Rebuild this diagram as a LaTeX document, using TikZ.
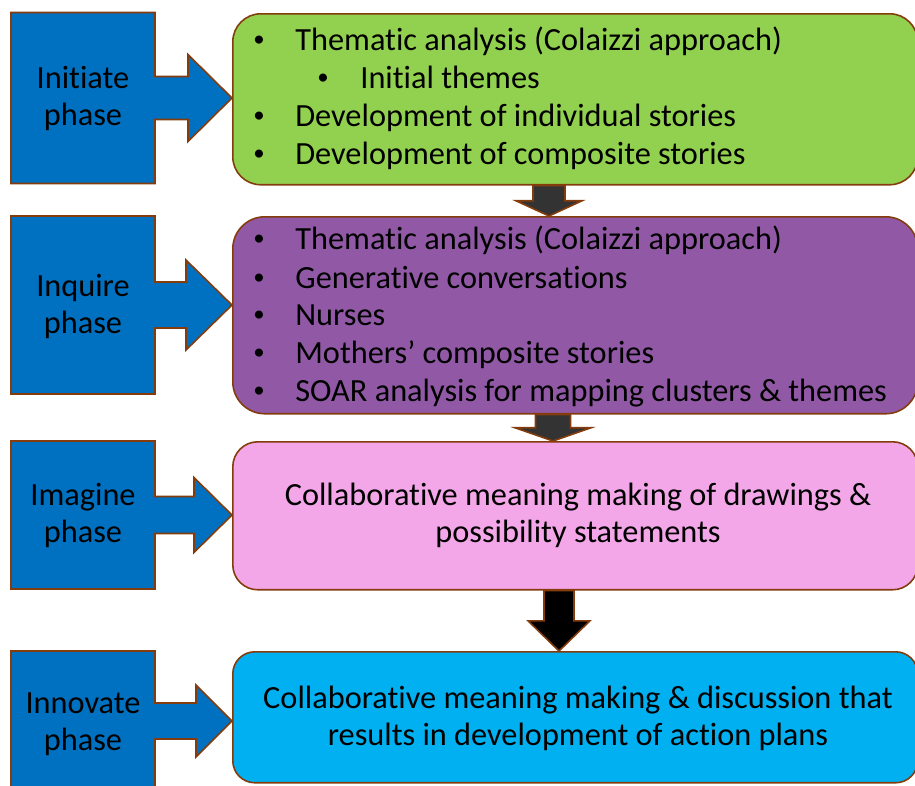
\documentclass[tikz,border=0pt]{standalone}
\usepackage{fontspec}
\setmainfont{Carlito}[RawFeature={-liga;-clig;-calt;-dlig;-hlig;-ccmp}]
\usetikzlibrary{calc}

\definecolor{calloutblue}{HTML}{0070C0}
\definecolor{edge}{HTML}{843C0C}
\definecolor{initgreen}{HTML}{92D050}
\definecolor{inqpurple}{HTML}{9159A5}
\definecolor{imagpink}{HTML}{F3A6E8}
\definecolor{innocyan}{HTML}{00B0F0}
\definecolor{arrowgray}{HTML}{333333}

\tikzset{
  callout/.style={fill=calloutblue, draw=edge, line width=0.9pt, line join=miter},
  stagebox/.style={draw=edge, line width=0.9pt, anchor=north west, inner sep=0pt, minimum width=13.7cm},
  txt/.style={font=\fontsize{18.4}{21}\selectfont, inner sep=0pt, anchor=base},
  item/.style={txt, anchor=base west},
  dot/.style={font=\fontsize{13}{13}\selectfont, inner sep=0pt, anchor=center},
}

% block arrow between two stage boxes
\newcommand{\stagearrow}[6]{%
  \coordinate (t) at (#1,0 |- #2.south);
  \coordinate (b) at (#1,0 |- #3.north);
  \coordinate (m) at ($(t)!0.5!(b)$);
  \filldraw[fill=#4, draw=edge, line width=0.9pt]
    ($(t)+(-#5,0)$) -- ($(t)+(#5,0)$) -- ($(m)+(#5,0)$) -- ($(m)+(#6,0)$)
    -- (b) -- ($(m)+(-#6,0)$) -- ($(m)+(-#5,0)$) -- cycle;
}

\begin{document}
\begin{tikzpicture}[x=0.02cm, y=-0.02cm]
  \useasboundingbox (0,0) rectangle (915,785);
  \clip (0,0) rectangle (915,785);

  % phase callouts
  \foreach \cy/\rh/\sh/\hh/\hx in {98/85.5/21.5/43.5/188, 305/89/23/45/186, 515/74/18.5/37.5/194, 721/70/18/36/196}
    \filldraw[callout] (11,\cy-\rh) -- (155,\cy-\rh) -- (155,\cy-\sh) -- (\hx,\cy-\sh) -- (\hx,\cy-\hh)
      -- (232,\cy) -- (\hx,\cy+\hh) -- (\hx,\cy+\sh) -- (155,\cy+\sh) -- (155,\cy+\rh) -- (11,\cy+\rh) -- cycle;

  \foreach \y/\word/\name in {88/Initiate/initlbl, 296/Inquire/inqlbl, 505/Imagine/imaglbl, 713/Innovate/innolbl} {
    \node[txt] (\name) at (83,\y) {\word};
    \node[txt] (\name-p) at (83,\y+37) {phase};
  }

  % stage boxes
  \node[stagebox, fill=initgreen, minimum height=3.42cm, rounded corners=0.56cm] (initbox) at (232,13) {};
  \node[stagebox, fill=inqpurple, minimum height=3.94cm, rounded corners=0.64cm] (inqbox) at (232,216) {};
  \node[stagebox, fill=imagpink, minimum height=2.96cm, rounded corners=0.5cm] (imagbox) at (232,441) {};
  \node[stagebox, fill=innocyan, minimum height=2.62cm, rounded corners=0.44cm] (innobox) at (232,651) {};

  % bullet lists
  \foreach \bx/\tx/\y/\line [count=\i] in {259/295/50/{Thematic analysis (Colaizzi approach)},
      323/360/88/Initial themes, 259/295/126/Development of individual stories,
      259/295/164/Development of composite stories,
      259/295/249/{Thematic analysis (Colaizzi approach)}, 259/295/288/Generative conversations,
      259/295/325/Nurses, 259/295/363/Mothers’ composite stories,
      259/295/401/SOAR analysis for mapping clusters \& themes} {
    \node[dot] (dot\i) at (\bx,\y-9) {\textbullet};
    \node[item] (line\i) at (\tx,\y) {\line};
  }

  \node[txt] (imag1) at (578,505) {Collaborative meaning making of drawings \&};
  \node[txt] (imag2) at (578,542) {possibility statements};
  \node[txt] (inno1) at (578,708) {Collaborative meaning making \& discussion that};
  \node[txt] (inno2) at (578,745) {results in development of action plans};

  % arrows between stages
  \stagearrow{549}{initbox}{inqbox}{arrowgray}{16}{33}
  \stagearrow{553}{inqbox}{imagbox}{arrowgray}{17.5}{38}
  \stagearrow{559}{imagbox}{innobox}{black}{15}{31}
\end{tikzpicture}
\end{document}
